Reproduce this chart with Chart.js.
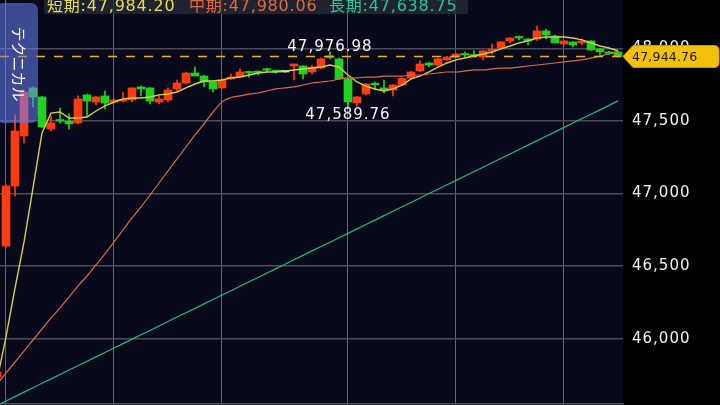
<!DOCTYPE html>
<html>
<head>
<meta charset="utf-8">
<script src="https://cdn.jsdelivr.net/npm/chart.js@4.4.1/dist/chart.umd.min.js"></script>
<style>
  html, body { margin: 0; padding: 0; background: #000; }
  #wrap { width: 720px; height: 405px; }
</style>
</head>
<body>
<div id="wrap"><canvas id="chart" width="720" height="405"></canvas></div>
<script>
// ローソク足 (インデックス 0 は左端で半分切れている足)
const opens = [45736, 46639, 47052, 47397, 47728, 47666, 47445, 47507, 47500, 47487, 47680, 47631, 47673, 47631, 47638, 47645, 47735, 47728, 47631, 47645, 47721, 47762, 47831, 47810, 47769, 47728, 47790, 47803, 47838, 47838, 47855, 47845, 47838, 47879, 47879, 47838, 47865, 47945, 47928, 47790, 47624, 47687, 47755, 47728, 47714, 47748, 47797, 47845, 47900, 47886, 47921, 47941, 47960, 47955, 47941, 47983, 48003, 48052, 48075, 48065, 48065, 48121, 48086, 48031, 48045, 48038, 48052, 47997, 47976, 47976];
const highs = [45775, 47060, 47542, 47710, 47735, 47670, 47535, 47590, 47549, 47673, 47685, 47670, 47707, 47650, 47700, 47728, 47740, 47731, 47680, 47728, 47783, 47838, 47872, 47817, 47772, 47790, 47824, 47859, 47845, 47845, 47865, 47850, 47840, 47893, 47882, 47886, 47935, 47976.98, 47935, 47795, 47670, 47760, 47769, 47783, 47752, 47797, 47842, 47914, 47905, 47932, 47945, 47966, 47976, 47983, 47986, 48031, 48048, 48075, 48086, 48068, 48155, 48134, 48093, 48055, 48048, 48065, 48055, 48000, 47980, 47980];
const lows = [45730, 46630, 46983, 47349, 47597, 47455, 47431, 47487, 47445, 47480, 47528, 47611, 47583, 47625, 47631, 47631, 47673, 47618, 47618, 47631, 47707, 47755, 47824, 47735, 47700, 47724, 47787, 47800, 47803, 47817, 47838, 47831, 47836, 47783, 47790, 47824, 47860, 47928, 47785, 47589.76, 47604, 47680, 47714, 47693, 47673, 47745, 47793, 47840, 47872, 47880, 47917, 47937, 47941, 47941, 47921, 47962, 48000, 48038, 48059, 48024, 48055, 48065, 48038, 48028, 48010, 48024, 47987, 47955, 47960, 47941];
const closes = [45770, 47052, 47431, 47700, 47666, 47459, 47487, 47500, 47480, 47652, 47638, 47666, 47624, 47645, 47645, 47728, 47721, 47638, 47652, 47714, 47762, 47831, 47810, 47769, 47721, 47783, 47803, 47838, 47831, 47834, 47850, 47841, 47838, 47893, 47824, 47872, 47928, 47938, 47790, 47631, 47666, 47755, 47750, 47714, 47748, 47793, 47838, 47893, 47886, 47928, 47941, 47962, 47955, 47948, 47983, 47990, 48045, 48072, 48072, 48052, 48121, 48093, 48038, 48052, 48024, 48052, 47990, 47976, 47965, 47944.76];

// 移動平均
const maShort = [45715, 46012, 46349, 46666, 47039, 47418, 47555, 47562, 47521, 47521, 47528, 47569, 47604, 47631, 47652, 47659, 47659, 47666, 47680, 47686, 47700, 47728, 47755, 47776, 47776, 47783, 47797, 47803, 47817, 47831, 47838, 47838, 47845, 47852, 47859, 47865, 47872, 47886, 47872, 47817, 47769, 47741, 47721, 47707, 47721, 47748, 47790, 47810, 47838, 47872, 47900, 47921, 47934, 47948, 47962, 47976, 47997, 48017, 48038, 48052, 48072, 48079, 48079, 48079, 48072, 48059, 48038, 48017, 48003, 47984.20];
const maMid = [45688, 45764, 45839, 45915, 45991, 46067, 46143, 46212, 46287, 46363, 46432, 46508, 46584, 46667, 46749, 46832, 46908, 46990, 47073, 47156, 47239, 47321, 47404, 47480, 47562, 47632, 47662, 47673, 47686, 47693, 47707, 47721, 47728, 47735, 47748, 47762, 47769, 47776, 47790, 47797, 47797, 47803, 47803, 47810, 47810, 47810, 47817, 47817, 47824, 47831, 47838, 47838, 47845, 47852, 47852, 47859, 47865, 47865, 47872, 47879, 47886, 47893, 47900, 47907, 47914, 47921, 47934, 47948, 47962, 47980.06];
const maLong = [45540, 45571, 45601, 45632, 45662, 45693, 45723, 45753, 45784, 45814, 45845, 45875, 45905, 45936, 45966, 45997, 46027, 46057, 46088, 46118, 46149, 46179, 46209, 46240, 46270, 46301, 46331, 46361, 46392, 46422, 46453, 46483, 46513, 46544, 46574, 46605, 46635, 46665, 46696, 46726, 46757, 46787, 46817, 46848, 46878, 46909, 46939, 46969, 47000, 47030, 47061, 47091, 47121, 47152, 47182, 47213, 47243, 47273, 47304, 47334, 47365, 47395, 47425, 47456, 47486, 47517, 47547, 47577, 47608, 47638.75];

const yTicks = [46000, 46500, 47000, 47500, 48000];
const gridIdx = [1, 13, 25, 39, 51, 63];   // 縦の区切り線
const lastPrice = 47944.76;
const maxIdx = 37, minIdx = 39;

const UP = '#ff3b12', DOWN = '#1fd21f', FLAT = '#f0f0f0';
const FONT = '"DejaVu Sans", "Noto Sans CJK JP", sans-serif';

const idx = opens.map((_, i) => i);
const candleColor = idx.map(i => closes[i] > opens[i] ? UP : (closes[i] < opens[i] ? DOWN : FLAT));
const fmt = v => v.toLocaleString('en-US', { minimumFractionDigits: 2, maximumFractionDigits: 2 });

const bgPlugin = {
    id: 'bg',
    beforeDraw(chart) {
        const { ctx, chartArea: a } = chart;
        ctx.letterSpacing = '1px';
        ctx.save();
        ctx.fillStyle = '#000';
        ctx.fillRect(0, 0, chart.width, chart.height);
        ctx.fillStyle = '#080a1b';
        ctx.fillRect(a.left, a.top, a.right - a.left, a.bottom - a.top);
        ctx.restore();
    }
};

const overlayPlugin = {
    id: 'overlay',
    afterDraw(chart) {
        const { ctx, chartArea: a } = chart;
        const xs = chart.scales.x, ys = chart.scales.y;
        ctx.save();

        // 現在値の破線
        const py = ys.getPixelForValue(lastPrice);
        ctx.strokeStyle = '#f0b400';
        ctx.lineWidth = 1.5;
        ctx.setLineDash([9, 9]);
        ctx.beginPath();
        ctx.moveTo(a.left, py);
        ctx.lineTo(a.right, py);
        ctx.stroke();
        ctx.setLineDash([]);

        // 高値・安値ラベル
        ctx.font = '15px ' + FONT;
        ctx.fillStyle = '#f4f4f4';
        ctx.textAlign = 'center';
        ctx.textBaseline = 'middle';
        ctx.fillText(fmt(highs[maxIdx]), xs.getPixelForValue(maxIdx), ys.getPixelForValue(highs[maxIdx]) - 5);
        ctx.fillText(fmt(lows[minIdx]), xs.getPixelForValue(minIdx), ys.getPixelForValue(lows[minIdx]) + 7);

        // 価格タグ
        const tl = a.right + 10, tr = 719, tt = py - 11, tb = py + 11, r = 5;
        ctx.beginPath();
        ctx.moveTo(a.right, py);
        ctx.lineTo(tl, tt);
        ctx.lineTo(tr - r, tt);
        ctx.quadraticCurveTo(tr, tt, tr, tt + r);
        ctx.lineTo(tr, tb - r);
        ctx.quadraticCurveTo(tr, tb, tr - r, tb);
        ctx.lineTo(tl, tb);
        ctx.closePath();
        ctx.fillStyle = '#f2c10a';
        ctx.fill();
        ctx.strokeStyle = '#c99a00';
        ctx.lineWidth = 1;
        ctx.stroke();
        ctx.letterSpacing = '0.2px';
        ctx.font = '12.5px ' + FONT;
        ctx.fillStyle = '#1c1500';
        ctx.textAlign = 'left';
        ctx.fillText(fmt(lastPrice), a.right + 9, py + 1);

        // 凡例
        ctx.fillStyle = 'rgba(38,40,52,0.8)';
        ctx.fillRect(44, 0, 424, 14);
        ctx.letterSpacing = '0.8px';
        ctx.font = '16px ' + FONT;
        ctx.textBaseline = 'middle';
        const legend = [
            ['短期:' + fmt(maShort[maShort.length - 1]), '#e6de58', 47],
            ['中期:' + fmt(maMid[maMid.length - 1]), '#e2683f', 189],
            ['長期:' + fmt(maLong[maLong.length - 1]), '#25c49a', 329]
        ];
        legend.forEach(([t, c, x]) => { ctx.fillStyle = c; ctx.fillText(t, x, 6.5); });

        // テクニカル タブ
        ctx.fillStyle = 'rgba(105,125,245,0.55)';
        ctx.beginPath();
        ctx.roundRect(-4, 3, 42, 120, 7);
        ctx.fill();
        ctx.translate(19, 64);
        ctx.rotate(Math.PI / 2);
        ctx.letterSpacing = '0px';
        ctx.font = '15px "Noto Sans CJK JP"';
        ctx.fillStyle = '#ffffff';
        ctx.textAlign = 'center';
        ctx.fillText('テクニカル', 0, 0);
        ctx.restore();
    }
};

const ctx = document.getElementById('chart').getContext('2d');
new Chart(ctx, {
    type: 'bar',
    data: {
        datasets: [
            {
                type: 'line', data: idx.map(i => ({ x: i, y: maLong[i] })),
                borderColor: '#19b98a', borderWidth: 1.2, pointRadius: 0, order: 0
            },
            {
                type: 'line', data: idx.map(i => ({ x: i, y: maMid[i] })),
                borderColor: '#d9694a', borderWidth: 1.2, pointRadius: 0, order: 0,
                cubicInterpolationMode: 'monotone'
            },
            {
                type: 'line', data: idx.map(i => ({ x: i, y: maShort[i] })),
                borderColor: '#d4cf4a', borderWidth: 1.4, pointRadius: 0, order: 0
            },
            {
                // 実体
                data: idx.map(i => ({ x: i, y: [opens[i], closes[i]] })),
                backgroundColor: candleColor, borderWidth: 0,
                barThickness: 8, minBarLength: 1.5, grouped: false, order: 1
            },
            {
                // ヒゲ
                data: idx.map(i => ({ x: i, y: [lows[i], highs[i]] })),
                backgroundColor: candleColor, borderWidth: 0,
                barThickness: 1, grouped: false, order: 2
            }
        ]
    },
    options: {
        responsive: false,
        animation: false,
        layout: { padding: { left: 0, right: 0, top: 0, bottom: 1 } },
        plugins: { legend: { display: false }, tooltip: { enabled: false } },
        scales: {
            x: {
                type: 'linear', min: 1 / 3, max: 69.556, offset: false,
                afterBuildTicks: s => { s.ticks = gridIdx.map(v => ({ value: v })); },
                grid: { color: '#67676e', lineWidth: 1, drawTicks: false, offset: false },
                border: { display: true, color: '#55555c', width: 1.5 },
                ticks: { display: false }
            },
            y: {
                position: 'right', min: 45550, max: 48334,
                afterBuildTicks: s => { s.ticks = yTicks.map(v => ({ value: v })); },
                afterFit: s => { s.width = 97; s.paddingTop = 0; s.paddingBottom = 0; },
                grid: { color: '#4b4c56', lineWidth: 1.5, drawTicks: false },
                border: { display: false },
                ticks: {
                    color: '#f2f2f2', padding: 9,
                    font: { family: FONT, size: 15 },
                    callback: v => v.toLocaleString('en-US')
                }
            }
        }
    },
    plugins: [bgPlugin, overlayPlugin]
});
</script>
</body>
</html>
